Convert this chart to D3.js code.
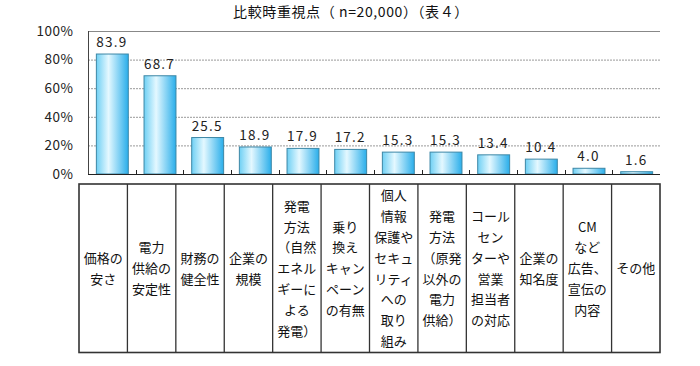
<!DOCTYPE html>
<html>
<head>
<meta charset="utf-8">
<script src="https://cdn.jsdelivr.net/npm/d3@7"></script>
<style>
  body { margin: 0; background: #fff; }
  text { font-family: "Noto Sans CJK JP", "Noto Sans", sans-serif; }
</style>
</head>
<body>
<div id="chart"></div>
<script>
// data
var titleText = "比較時重視点（ n=20,000）（表４）"
var categories = ["価格の安さ", "電力供給の安定性", "財務の健全性", "企業の規模", "発電方法（自然エネルギーによる発電）",
  "乗り換えキャンペーンの有無", "個人情報保護やセキュリティへの取り組み", "発電方法（原発以外の電力供給）",
  "コールセンターや営業担当者の対応", "企業の知名度", "CMなど広告、宣伝の内容", "その他"]
var values = [83.9, 68.7, 25.5, 18.9, 17.9, 17.2, 15.3, 15.3, 13.4, 10.4, 4.0, 1.6]
// how each label is broken into lines in the table cells
var labelLines = [
  ["価格の", "安さ"],
  ["電力", "供給の", "安定性"],
  ["財務の", "健全性"],
  ["企業の", "規模"],
  ["発電", "方法", "（自然", "エネル", "ギーに", "よる", "発電）"],
  ["乗り", "換え", "キャン", "ペーン", "の有無"],
  ["個人", "情報", "保護や", "セキュ", "リティ", "への", "取り", "組み"],
  ["発電", "方法", "（原発", "以外の", "電力", "供給）"],
  ["コール", "セン", "ターや", "営業", "担当者", "の対応"],
  ["企業の", "知名度"],
  ["CM", "など", "広告、", "宣伝の", "内容"],
  ["その他"]
]
var yTicks = [0, 20, 40, 60, 80, 100]

function draw(){
  var width = 700, height = 366
  var svg = d3.select("#chart").append("svg")
    .attr("width", width)
    .attr("height", height)

  var defs = svg.append("defs")
  var grad = defs.append("linearGradient")
    .attr("id", "barGrad")
    .attr("x1", "0%").attr("x2", "100%").attr("y1", "0%").attr("y2", "0%")
  grad.append("stop").attr("offset", "0%").attr("stop-color", "#6fd0f4")
  grad.append("stop").attr("offset", "38%").attr("stop-color", "#e4f8ff")
  grad.append("stop").attr("offset", "100%").attr("stop-color", "#2aaeea")

  var pLeft = 88, pRight = 660, pTop = 31, pBottom = 174

  var x = d3.scaleBand()
    .domain(categories)
    .range([pLeft, pRight])
    .paddingInner(0.33)
    .paddingOuter(0.165)

  var y = d3.scaleLinear()
    .domain([0, 100])
    .range([pBottom, pTop])

  // title
  svg.append("text")
    .attr("x", 351)
    .attr("y", 17)
    .attr("text-anchor", "middle")
    .attr("font-size", 14)
    .attr("letter-spacing", 0.6)
    .attr("fill", "#111")
    .text(titleText)

  // grid
  var g = svg.append("g")
  g.selectAll("line.grid")
    .data(yTicks.filter(function(d){ return d > 0 && d < 100 }))
    .enter().append("line")
    .attr("class", "grid")
    .attr("x1", pLeft).attr("x2", pRight)
    .attr("y1", function(d){ return y(d) + 0.5 })
    .attr("y2", function(d){ return y(d) + 0.5 })
    .attr("stroke", "#999")
    .attr("stroke-dasharray", "2,1")
    .attr("stroke-width", 1)

  g.append("line")
    .attr("x1", pLeft).attr("x2", pRight)
    .attr("y1", y(100) + 0.5).attr("y2", y(100) + 0.5)
    .attr("stroke", "#888")

  // bars
  g.selectAll("rect.bar")
    .data(values)
    .enter().append("rect")
    .attr("class", "bar")
    .attr("x", function(d, i){ return x(categories[i]) + 0.5 })
    .attr("y", function(d){ return y(d) })
    .attr("width", x.bandwidth())
    .attr("height", function(d){ return y(0) - y(d) })
    .attr("fill", "url(#barGrad)")
    .attr("stroke", "#3d87a6")
    .attr("stroke-width", 1)

  // value labels
  g.selectAll("text.val")
    .data(values)
    .enter().append("text")
    .attr("class", "val")
    .attr("x", function(d, i){ return x(categories[i]) + x.bandwidth() / 2 })
    .attr("y", function(d){ return y(d) - 7 })
    .attr("text-anchor", "middle")
    .attr("font-size", 13.5)
    .attr("fill", "#222")
    .attr("letter-spacing", 1.2)
    .text(function(d){ return d.toFixed(1) })

  // y axis
  var yAxis = d3.axisLeft(y)
    .tickValues(yTicks)
    .tickSize(0)
    .tickPadding(15)
    .tickFormat(function(d){ return d + "%" })
  var ya = svg.append("g")
    .attr("transform", "translate(" + (pLeft + 0.5) + ",0)")
    .call(yAxis)
  ya.select(".domain").attr("stroke", "#444").attr("d", "M0," + y(100) + "V" + (y(0) + 0.5))
  ya.selectAll("text")
    .attr("font-size", 13.5)
    .attr("letter-spacing", 0.5)
    .attr("fill", "#222")
    .attr("font-family", "\"Noto Sans CJK JP\", sans-serif")

  // x axis line with inward ticks at band boundaries
  var step = x.step()
  var boundaries = d3.range(1, categories.length).map(function(i){
    return x(categories[i]) - step * x.paddingInner() / 2
  })
  svg.append("line")
    .attr("x1", pLeft).attr("x2", pRight)
    .attr("y1", y(0) + 0.5).attr("y2", y(0) + 0.5)
    .attr("stroke", "#222")
  svg.selectAll("line.xtick")
    .data(boundaries)
    .enter().append("line")
    .attr("class", "xtick")
    .attr("x1", function(d){ return Math.round(d) + 0.5 })
    .attr("x2", function(d){ return Math.round(d) + 0.5 })
    .attr("y1", y(0))
    .attr("y2", y(0) - 4)
    .attr("stroke", "#222")

  // table below
  var tLeft = 79, tRight = 660, tTop = 184, tBottom = 352.5
  var tx = d3.scaleBand()
    .domain(categories)
    .range([tLeft, tRight])

  var table = svg.append("g")
  table.append("rect")
    .attr("x", tLeft).attr("y", tTop)
    .attr("width", tRight - tLeft).attr("height", tBottom - tTop)
    .attr("fill", "none")
    .attr("stroke", "#333")
    .attr("stroke-width", 1.6)
  table.selectAll("line.col")
    .data(categories.slice(1))
    .enter().append("line")
    .attr("class", "col")
    .attr("x1", function(d){ return tx(d) }).attr("x2", function(d){ return tx(d) })
    .attr("y1", tTop).attr("y2", tBottom)
    .attr("stroke", "#333")
    .attr("stroke-width", 1.3)

  var lineH = 20.8
  var cells = table.selectAll("text.cell")
    .data(labelLines)
    .enter().append("text")
    .attr("class", "cell")
    .attr("text-anchor", "middle")
    .attr("font-size", 13)
    .attr("fill", "#111")
    .attr("x", function(d, i){ return tx(categories[i]) + tx.bandwidth() / 2 })
    .attr("y", function(d){ return (tTop + tBottom) / 2 - (d.length - 1) * lineH / 2 + 5 })

  cells.selectAll("tspan")
    .data(function(d, i){ return d.map(function(s){ return { s: s, i: i } }) })
    .enter().append("tspan")
    .attr("x", function(d){ return tx(categories[d.i]) + tx.bandwidth() / 2 })
    .attr("dy", function(d, j){ return j === 0 ? 0 : lineH })
    .text(function(d){ return d.s })
}

draw()
</script>
</body>
</html>
